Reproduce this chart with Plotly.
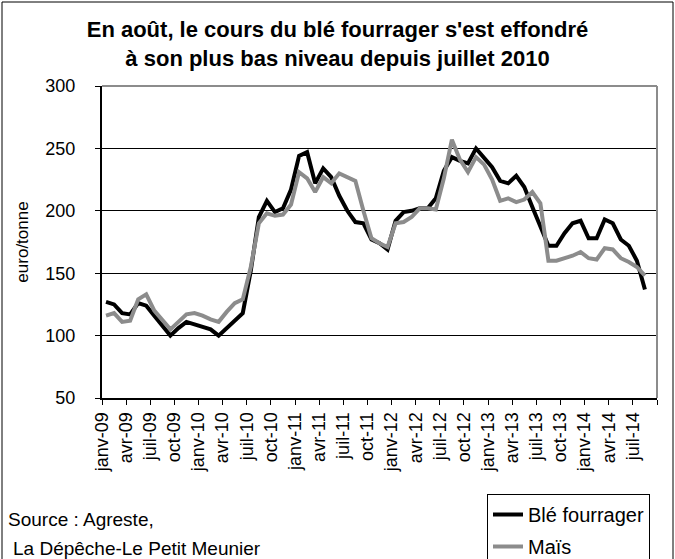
import plotly.graph_objects as go

months = ["janv", "févr", "mars", "avr", "mai", "juin", "juil", "août", "sept", "oct", "nov", "déc"]
categories = [f"{m}-{y:02d}" for y in range(9, 15) for m in months][:69]  # janv-09 .. sept-14

ble_fourrager = [127, 125, 118, 117, 126, 124, 116, 108, 100, 106, 111, 109,
                 107, 105, 100, 106, 112, 118, 152, 195, 208, 199, 202, 217,
                 244, 247, 222, 234, 227, 212, 200, 191, 190, 177, 174, 169,
                 192, 199, 200, 202, 202, 210, 232, 243, 240, 238, 250, 242,
                 235, 224, 222, 228, 219, 203, 187, 172, 172, 182, 190, 192,
                 178, 178, 193, 190, 177, 172, 160, 137]
mais = [116, 118, 111, 112, 129, 133, 120, 112, 105, 111, 117, 118,
        116, 113, 111, 119, 126, 129, 155, 190, 198, 196, 197, 205,
        231, 226, 215, 227, 222, 230, 227, 224, 200, 178, 174, 171,
        190, 191, 195, 202, 202, 201, 226, 257, 241, 231, 243, 237,
        225, 208, 210, 207, 209, 215, 206, 160, 160, 162, 164, 167,
        162, 161, 170, 169, 162, 159, 155, 148]

tick_labels = ["janv-09", "avr-09", "juil-09", "oct-09", "janv-10", "avr-10", "juil-10", "oct-10",
               "janv-11", "avr-11", "juil-11", "oct-11", "janv-12", "avr-12", "juil-12", "oct-12",
               "janv-13", "avr-13", "juil-13", "oct-13", "janv-14", "avr-14", "juil-14"]

FONT = "Liberation Sans, Arial, sans-serif"
x_idx = list(range(len(ble_fourrager)))
tickvals = [3 * k - 0.5 for k in range(len(tick_labels) + 1)]
ticktext = tick_labels + [""]

fig = go.Figure()
fig.add_trace(go.Scatter(x=x_idx, y=ble_fourrager, mode="lines", name="Blé fourrager",
                         line=dict(color="#000000", width=4), legendgroup="a"))
fig.add_trace(go.Scatter(x=list(range(len(mais))), y=mais, mode="lines", name="Maïs",
                         line=dict(color="#8c8c8c", width=4), legendgroup="b"))

L, R, T, B = 102, 18, 86, 161
W, H = 675, 559
pw, ph = W - L - R, H - T - B

def px(x):
    return (x - L) / pw

def py(y):
    return (H - B - y) / ph

fig.update_layout(
    width=W, height=H,
    margin=dict(l=L, r=R, t=T, b=B, autoexpand=False),
    paper_bgcolor="white", plot_bgcolor="white",
    font=dict(family=FONT, size=18, color="black"),
    title=dict(text="<b>En août, le cours du blé fourrager s'est effondré<br>à son plus bas niveau depuis juillet 2010</b>",
               x=0.5, xanchor="center", y=1 - 37 / H, yanchor="middle",
               font=dict(family=FONT, size=22, color="black")),
    showlegend=True,
    legend=dict(x=px(487), xanchor="left", y=py(494), yanchor="top",
                bordercolor="black", borderwidth=1, bgcolor="white",
                font=dict(family=FONT, size=20), tracegroupgap=3),
    xaxis=dict(range=[-0.5, 68.5], tickmode="array", tickvals=tickvals, ticktext=ticktext,
               tickangle=-90, ticks="outside", ticklen=5, tickcolor="black",
               showline=True, linecolor="black", linewidth=2, showgrid=False, zeroline=False,
               automargin=False, tickfont=dict(family=FONT, size=18)),
    yaxis=dict(range=[50, 300], tickvals=[50, 100, 150, 200, 250, 300],
               ticks="outside", ticklen=5, tickcolor="black",
               showline=True, linecolor="black", linewidth=2,
               showgrid=True, gridcolor="#000000", gridwidth=1, zeroline=False,
               automargin=False, tickfont=dict(family=FONT, size=18), ticklabelstandoff=16,
               title=dict(text="euro/tonne", standoff=12, font=dict(family=FONT, size=17))),
    shapes=[
        dict(type="line", xref="paper", yref="paper", x0=0, x1=1, y0=1, y1=1,
             line=dict(color="#8c8c8c", width=2)),
        dict(type="line", xref="paper", yref="paper", x0=1, x1=1, y0=0, y1=1,
             line=dict(color="#8c8c8c", width=2)),
        dict(type="rect", xref="paper", yref="paper", x0=px(2), x1=px(673), y0=py(600), y1=py(2),
             line=dict(color="black", width=1), fillcolor="rgba(0,0,0,0)"),
    ],
    annotations=[
        dict(text="Source : Agreste,", xref="paper", yref="paper", x=px(6), y=py(519),
             xanchor="left", yanchor="middle", showarrow=False, font=dict(family=FONT, size=19)),
        dict(text="La Dépêche-Le Petit Meunier", xref="paper", yref="paper", x=px(11), y=py(548),
             xanchor="left", yanchor="middle", showarrow=False, font=dict(family=FONT, size=19)),
    ],
)

fig.write_html("out.html", config={"displayModeBar": False},
               post_script="document.body.style.margin='0';document.body.style.overflow='hidden';")
